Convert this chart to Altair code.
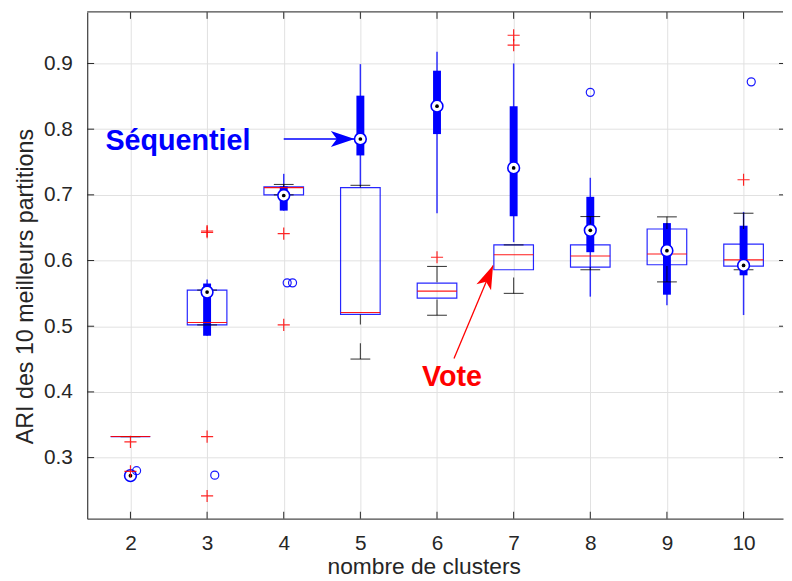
import altair as alt
import pandas as pd

# ---------------- data ----------------
clusters = [2, 3, 4, 5, 6, 7, 8, 9, 10]
y_ticks = [0.3, 0.4, 0.5, 0.6, 0.7, 0.8, 0.9]

# "Vote" boxplots (classic MATLAB style)
vote_q1 = [0.332, 0.502, 0.700, 0.518, 0.5428, 0.586, 0.590, 0.5936, 0.5915]
vote_med = [0.332, 0.5056, 0.711, 0.521, 0.5534, 0.6088, 0.607, 0.610, 0.601]
vote_q3 = [0.332, 0.555, 0.712, 0.711, 0.5655, 0.6238, 0.6238, 0.648, 0.625]
vote_wlo = [0.332, 0.502, 0.700, 0.450, 0.5167, 0.550, 0.586, 0.5675, 0.586]
vote_whi = [0.332, 0.555, 0.7158, 0.7145, 0.591, 0.6238, 0.667, 0.6665, 0.672]
vote_out_k = [2, 2, 3, 3, 3, 3, 4, 4, 6, 7, 7, 10]
vote_out_v = [0.324, 0.279, 0.643, 0.645, 0.332, 0.2416, 0.641, 0.502, 0.605, 0.943, 0.928, 0.723]

# "Séquentiel" boxplots (compact style)
seq_q1 = [0.2725, 0.4855, 0.676, 0.760, 0.7925, 0.6675, 0.6127, 0.548, 0.5775]
seq_med = [0.2725, 0.552, 0.699, 0.785, 0.835, 0.741, 0.646, 0.615, 0.5926]
seq_q3 = [0.2725, 0.565, 0.713, 0.851, 0.889, 0.835, 0.697, 0.657, 0.653]
seq_wlo = [0.2725, 0.4855, 0.676, 0.713, 0.672, 0.628, 0.545, 0.532, 0.517]
seq_whi = [0.2725, 0.571, 0.732, 0.899, 0.918, 0.900, 0.726, 0.657, 0.674]
seq_out_k = [2, 3, 4, 4, 8, 10]
seq_out_v = [0.280, 0.2733, 0.566, 0.566, 0.856, 0.872]
seq_out_jitter = [0.08, 0.10, 0.045, 0.115, 0.0, 0.10]

# annotations
seq_label = ["Séquentiel"]
seq_label_x = [2.62]
seq_label_y = [0.7676]
seq_arrow_x = [4.0, 4.925]
seq_arrow_y = [0.785, 0.785]
vote_label = ["Vote"]
vote_label_x = [6.195]
vote_label_y = [0.409]
vote_arrow_x = [6.2215, 6.731]
vote_arrow_y = [0.4508, 0.5926]

# ---------------- styling ----------------
W, H = 703, 512
FONT = "Liberation Sans"
BLUE = "#0000ff"
RED = "#ff0000"
TXT = "#262626"
SPINE = "#4a4a4a"
GRID = "#e1e1e1"

xscale = alt.Scale(domain=[1.5, 10.45], nice=False, zero=False)
yscale = alt.Scale(domain=[0.207, 0.9785], nice=False, zero=False)

xaxis = alt.Axis(values=clusters, grid=True, gridColor=GRID, gridWidth=1, ticks=False,
                 domain=True, domainColor=SPINE, domainWidth=1.3,
                 labelFont=FONT, labelFontSize=21, labelColor=TXT, labelPadding=14.5,
                 titleFont=FONT, titleFontSize=23, titleFontWeight="normal", titleColor=TXT,
                 titleX=340, titleY=55, titleAlign="center", titleBaseline="alphabetic")
yaxis = alt.Axis(values=y_ticks, format=".1f", grid=True, gridColor=GRID, gridWidth=1, ticks=False,
                 domain=True, domainColor=SPINE, domainWidth=1.3,
                 labelFont=FONT, labelFontSize=21, labelColor=TXT, labelPadding=15,
                 titleFont=FONT, titleFontSize=23.5, titleFontWeight="normal", titleColor=TXT,
                 titleAngle=270, titleX=-55, titleY=277, titleAlign="center", titleBaseline="alphabetic")
XT = "nombre de clusters"
YT = "ARI des 10 meilleurs partitions"


def X(f):
    return alt.X(f, type="quantitative", scale=xscale, axis=xaxis, title=XT)


def Y(f):
    return alt.Y(f, type="quantitative", scale=yscale, axis=yaxis, title=YT)


def Y2(f):
    return alt.Y2(f)


# ---------------- tables ----------------
vote = pd.DataFrame({"k": clusters, "q1": vote_q1, "med": vote_med, "q3": vote_q3,
                     "wlo": vote_wlo, "whi": vote_whi})
whisk = pd.concat([
    pd.DataFrame({"k": clusters, "cap": vote_wlo, "edge": vote_q1}),
    pd.DataFrame({"k": clusters, "cap": vote_whi, "edge": vote_q3}),
], ignore_index=True)
vote_out = pd.DataFrame({"k": vote_out_k, "v": vote_out_v})
seq = pd.DataFrame({"k": clusters, "q1": seq_q1, "med": seq_med, "q3": seq_q3,
                    "wlo": seq_wlo, "whi": seq_whi})
seq_out = pd.DataFrame({"k": seq_out_k, "v": seq_out_v, "jit": seq_out_jitter})
xt = pd.DataFrame({"k": clusters})
yt = pd.DataFrame({"v": y_ticks})
one = pd.DataFrame({"a": [0]})

# ---------------- layers ----------------
frame_top = alt.Chart(one).mark_rule(color=SPINE, strokeWidth=1.3).encode(
    x=alt.value(0), x2=alt.value(W), y=alt.value(0))

vote_box = alt.Chart(vote).mark_bar(size=40, fillOpacity=0, stroke=BLUE, strokeWidth=1.2,
                                    strokeOpacity=0.85).encode(
    x=X("k"), y=Y("q1"), y2=Y2("q3"))

seq_wh = alt.Chart(seq).mark_rule(color=BLUE, strokeWidth=1.5, opacity=0.8).encode(
    x=X("k"), y=Y("wlo"), y2=Y2("whi"))
seq_bar = alt.Chart(seq).mark_rule(color=BLUE, strokeWidth=8, strokeCap="butt").encode(
    x=X("k"), y=Y("q1"), y2=Y2("q3"))

vote_wh = alt.Chart(whisk).mark_rule(color="black", strokeWidth=1.1, strokeDash=[16, 19],
                                     opacity=0.75).encode(
    x=X("k"), y=Y("cap"), y2=Y2("edge"))
vote_cap = alt.Chart(whisk).mark_tick(orient="horizontal", size=20, thickness=1.1,
                                      color="black", opacity=0.75).encode(
    x=X("k"), y=Y("cap"))
vote_medl = alt.Chart(vote).mark_tick(orient="horizontal", size=40, thickness=1.1,
                                      color=RED, opacity=0.9).encode(
    x=X("k"), y=Y("med"))

seq_medc = alt.Chart(seq).mark_point(shape="circle", size=140, filled=True, fill="white",
                                     stroke=BLUE, strokeWidth=1.6, opacity=1).encode(
    x=X("k"), y=Y("med"))
seq_medd = alt.Chart(seq).mark_circle(size=14, color="black", opacity=1).encode(
    x=X("k"), y=Y("med"))

seq_o = alt.Chart(seq_out).transform_calculate(kx="datum.k + datum.jit").mark_point(
    shape="circle", size=66, stroke=BLUE, strokeWidth=1.2, opacity=0.9).encode(
    x=X("kx"), y=Y("v"))

PLUS = "M -1 0 L 1 0 M 0 -1 L 0 1"
vote_o = alt.Chart(vote_out).mark_point(shape=PLUS, size=150, stroke=RED, strokeWidth=1.2,
                                        opacity=0.85).encode(
    x=X("k"), y=Y("v"))

# inward ticks on all four sides
tk_bottom = alt.Chart(xt).mark_rule(color=TXT, strokeWidth=1).encode(
    x=X("k"), y=alt.value(H), y2=alt.value(H - 7))
tk_top = alt.Chart(xt).mark_rule(color=TXT, strokeWidth=1).encode(
    x=X("k"), y=alt.value(0), y2=alt.value(7))
tk_left = alt.Chart(yt).mark_rule(color=TXT, strokeWidth=1).encode(
    y=Y("v"), x=alt.value(0), x2=alt.value(7))
tk_right = alt.Chart(yt).mark_rule(color=TXT, strokeWidth=1).encode(
    y=Y("v"), x=alt.value(W - 4), x2=alt.value(W))

# annotations
ARROW = "M 0 0 L 0.667 2 L 0 1.5 L -0.667 2 Z"
sa = pd.DataFrame({"x": seq_arrow_x, "y": seq_arrow_y})
va = pd.DataFrame({"x": vote_arrow_x, "y": vote_arrow_y})
seq_line = alt.Chart(sa).mark_line(color=BLUE, strokeWidth=1.3).encode(x=X("x"), y=Y("y"))
seq_head = alt.Chart(sa.tail(1)).mark_point(shape=ARROW, size=576, angle=90, filled=True,
                                            color=BLUE, opacity=1).encode(x=X("x"), y=Y("y"))
vote_line = alt.Chart(va).mark_line(color=RED, strokeWidth=1.3).encode(x=X("x"), y=Y("y"))
vote_head = alt.Chart(va.tail(1)).mark_point(shape=ARROW, size=576, angle=23, filled=True,
                                             color=RED, opacity=1).encode(x=X("x"), y=Y("y"))
seq_txt = alt.Chart(pd.DataFrame({"t": seq_label, "x": seq_label_x, "y": seq_label_y})).mark_text(
    font=FONT, fontSize=29, fontWeight="bold", color=BLUE, align="center",
    baseline="alphabetic").encode(x=X("x"), y=Y("y"), text="t:N")
vote_txt = alt.Chart(pd.DataFrame({"t": vote_label, "x": vote_label_x, "y": vote_label_y})).mark_text(
    font=FONT, fontSize=29, fontWeight="bold", color=RED, align="center",
    baseline="alphabetic").encode(x=X("x"), y=Y("y"), text="t:N")

chart = alt.layer(
    vote_box, seq_wh, seq_bar, vote_wh, vote_cap, vote_medl,
    seq_medc, seq_medd, seq_o, vote_o,
    tk_bottom, tk_top, tk_left, tk_right, frame_top,
    seq_line, seq_head, vote_line, vote_head, seq_txt, vote_txt,
).properties(
    width=W, height=H,
    autosize=alt.AutoSizeParams(type="none"),
    padding={"left": 80, "top": 1, "right": 1, "bottom": 59},
    background="white",
).configure_view(strokeWidth=0)

chart.save("out.html", embed_options={"renderer": "svg", "actions": False})
